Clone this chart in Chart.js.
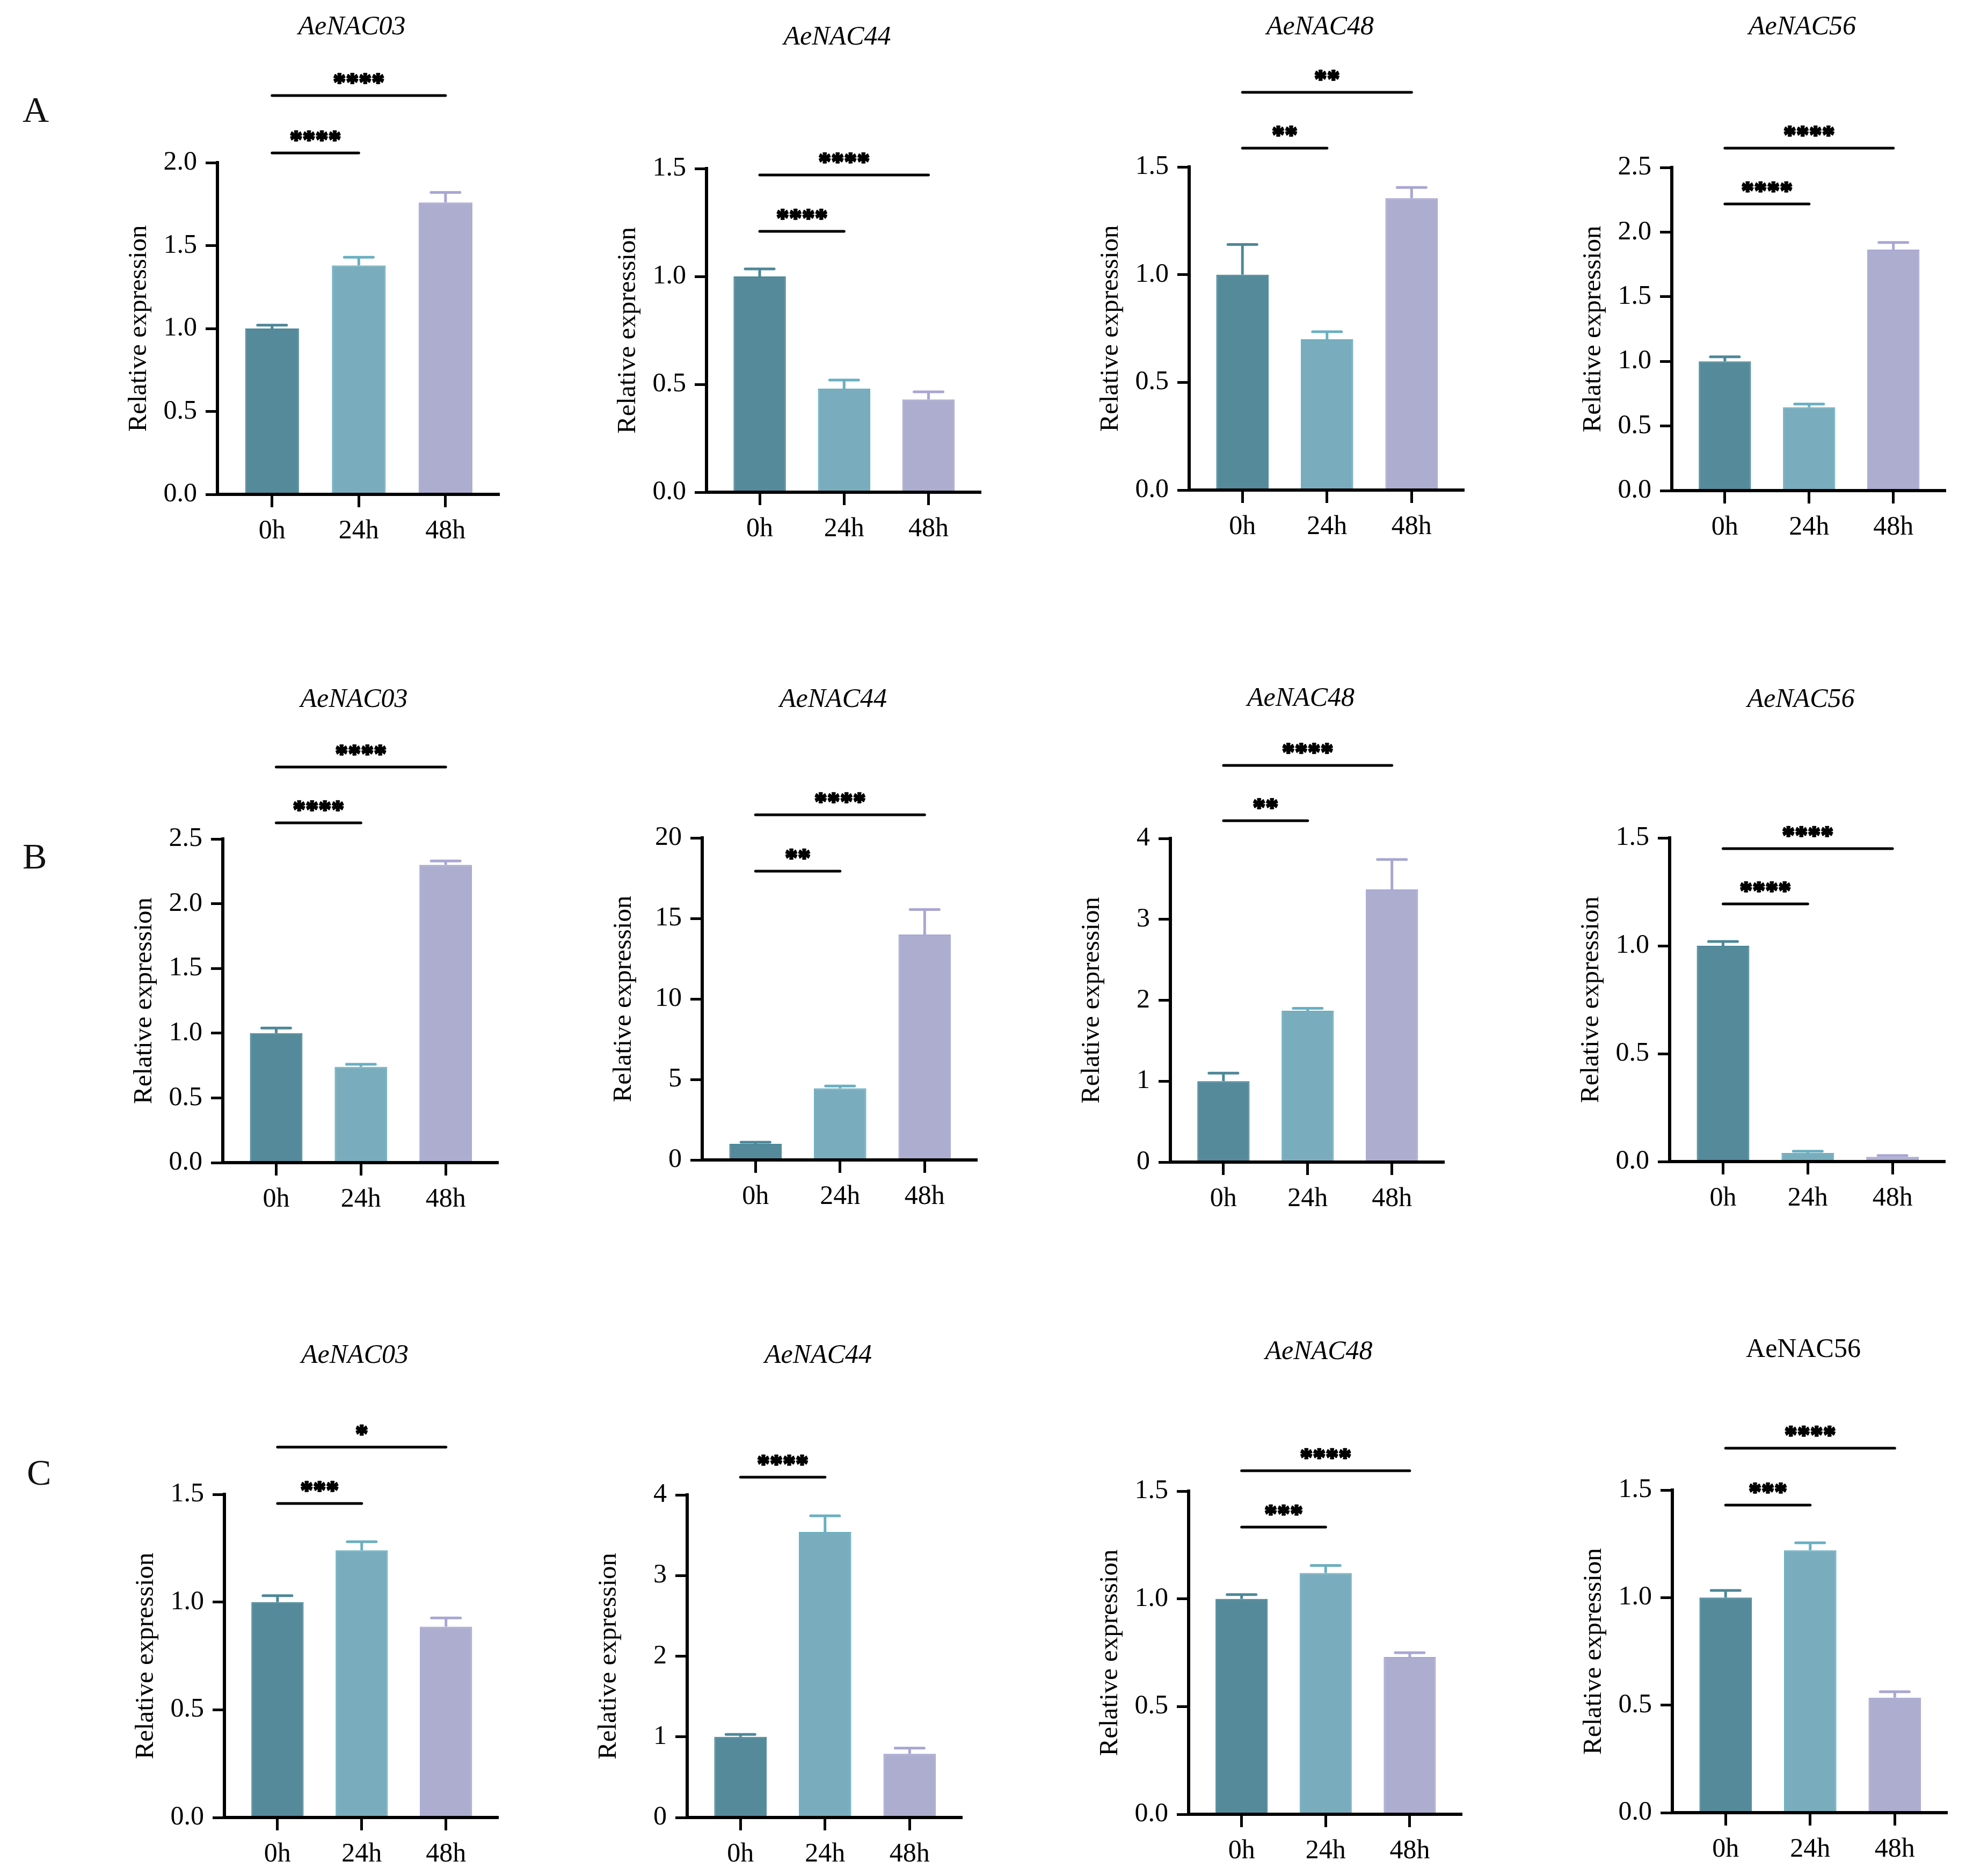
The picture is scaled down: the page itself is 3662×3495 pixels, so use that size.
<!DOCTYPE html>
<html>
<head>
<meta charset="utf-8">
<script src="https://cdn.jsdelivr.net/npm/chart.js@4.4.1/dist/chart.umd.min.js"></script>
<style>
  html, body { margin: 0; padding: 0; background: #fff; }
  body { width: 3662px; height: 3495px; position: relative; overflow: hidden; font-family: 'Liberation Serif', 'Times New Roman', serif; }
  canvas { position: absolute; }
  .letter { position: absolute; font-size: 68px; line-height: 68px; color: #111; }
</style>
</head>
<body>
<div class="letter" style="left:42px;top:170px">A</div>
<div class="letter" style="left:42px;top:1561px">B</div>
<div class="letter" style="left:50px;top:2709px">C</div>
<script>
// --- Data ---
const hours = ['0h', '24h', '48h'];
const genes = ['AeNAC03', 'AeNAC44', 'AeNAC48', 'AeNAC56'];

// relative expression (mean) and error per gene, for each treatment row
const meansA = [[1.00, 1.38, 1.76], [1.00, 0.48, 0.43], [1.00, 0.70, 1.355], [1.00, 0.645, 1.865]];
const errsA  = [[0.02, 0.05, 0.06], [0.035, 0.04, 0.035], [0.14, 0.035, 0.05], [0.035, 0.025, 0.055]];
const meansB = [[1.00, 0.74, 2.30], [1.0, 4.45, 14.0], [1.0, 1.87, 3.37], [1.00, 0.04, 0.022]];
const errsB  = [[0.04, 0.02, 0.03], [0.1, 0.14, 1.55], [0.1, 0.03, 0.37], [0.02, 0.008, 0.006]];
const meansC = [[1.00, 1.24, 0.886], [1.0, 3.54, 0.79], [1.00, 1.12, 0.73], [1.0, 1.22, 0.535]];
const errsC  = [[0.03, 0.04, 0.04], [0.03, 0.2, 0.07], [0.02, 0.035, 0.02], [0.033, 0.035, 0.027]];

// significance marks: [0h vs 24h, 0h vs 48h]
const starsA = [['****', '****'], ['****', '****'], ['**', '**'], ['****', '****']];
const starsB = [['****', '****'], ['**', '****'], ['**', '****'], ['****', '****']];
const starsC = [['***', '*'], ['****', null], ['***', '****'], ['***', '****']];

// y axis range / tick step
const yMaxA = [2.0, 1.5, 1.5, 2.5], yStepA = [0.5, 0.5, 0.5, 0.5];
const yMaxB = [2.5, 20, 4, 1.5],    yStepB = [0.5, 5, 1, 0.5];
const yMaxC = [1.5, 4, 1.5, 1.5],   yStepC = [0.5, 1, 0.5, 0.5];

// --- Layout (page pixels): plot left, top, width, height, title dy, bracket dy (lower, upper) ---
const boxes = [
  [[405, 303, 525, 618, -255, -18, -125], [1316, 314, 511, 603, -247, 117, 12], [2215, 311, 512, 602, -263, -35, -139], [3114, 312, 510, 602, -264, 68, -36]],
  [[415, 1563, 513, 603, -262, -30, -134], [1308, 1561, 512, 600, -260, 62, -43], [2180, 1562, 510, 603, -263, -33, -136], [3110, 1561, 513, 603, -260, 123, 20]],
  [[418, 2784, 510, 602, -261, 17, -88], [1280, 2785, 512, 601, -262, -33, null], [2214, 2778, 509, 602, -262, 67, -38], [3115, 2776, 512, 601, -264, 28, -78]]
];

const barColors = ['#558a9b', '#79adbd', '#adadcf'];
const edgeColors = ['#4a8898', '#6db0c0', '#a7a7d1'];
const errColors = ['#4d8798', '#6aafc1', '#a8a6d2'];
const FONT = "'Liberation Serif', 'Times New Roman', serif";
const Y_W = 180, X_H = 110, PAD_T = 300, PAD_R = 20;

function inkText(ctx, s, x, cy, heavy) {
  const m = ctx.measureText(s);
  const y = cy + (m.actualBoundingBoxAscent - m.actualBoundingBoxDescent) / 2;
  if (heavy) {
    ctx.lineWidth = 2.5;
    ctx.lineJoin = 'round';
    ctx.strokeStyle = '#000';
    ctx.strokeText(s, x, y);
  }
  ctx.fillText(s, x, y);
}

// titles, error bars and significance brackets
const decor = {
  id: 'decor',
  afterDraw(chart, args, o) {
    const ctx = chart.ctx;
    const area = chart.chartArea;
    const xs = chart.scales.x, ys = chart.scales.y;
    const means = chart.data.datasets[0].data.map(p => p.y);
    ctx.save();
    ctx.textAlign = 'center';
    ctx.textBaseline = 'alphabetic';
    ctx.fillStyle = '#000';

    // title
    ctx.font = (o.italic ? 'italic ' : '') + '50px ' + FONT;
    inkText(ctx, o.title, (area.left + area.right) / 2 - 12, area.top + o.titleDy);

    // error bars
    o.errs.forEach((e, i) => {
      const x = xs.getPixelForValue(i);
      const y0 = ys.getPixelForValue(means[i]);
      const y1 = ys.getPixelForValue(means[i] + e);
      ctx.strokeStyle = errColors[i];
      ctx.lineWidth = 5;
      ctx.lineCap = 'butt';
      ctx.beginPath(); ctx.moveTo(x, y0); ctx.lineTo(x, y1); ctx.stroke();
      ctx.lineCap = 'round';
      ctx.beginPath(); ctx.moveTo(x - 27, y1); ctx.lineTo(x + 27, y1); ctx.stroke();
    });

    // brackets
    o.stars.forEach((s, k) => {
      if (!s) return;
      const y = area.top + o.bracketDy[k];
      const xa = xs.getPixelForValue(0), xb = xs.getPixelForValue(k + 1);
      ctx.strokeStyle = '#000';
      ctx.lineWidth = 5;
      ctx.lineCap = 'round';
      ctx.beginPath(); ctx.moveTo(xa, y); ctx.lineTo(xb, y); ctx.stroke();
      ctx.font = 'bold 48px ' + FONT;
      inkText(ctx, s, (xa + xb) / 2, y - 32, true);
    });
    ctx.restore();
  }
};

function makePanel(box, gene, means, errs, stars, yMax, yStep, italic) {
  const [left, top, w, h, titleDy, lowDy, highDy] = box;
  const cv = document.createElement('canvas');
  const cw = Y_W + w + PAD_R, ch = PAD_T + h + X_H;
  cv.width = cw; cv.height = ch;
  cv.style.left = (left - Y_W) + 'px';
  cv.style.top = (top - PAD_T) + 'px';
  cv.style.width = cw + 'px';
  cv.style.height = ch + 'px';
  document.body.appendChild(cv);
  const dec = yStep < 1 ? 1 : 0;

  new Chart(cv, {
    type: 'bar',
    data: {
      datasets: [{
        data: means.map((v, i) => ({ x: i, y: v })),
        backgroundColor: barColors,
        borderColor: edgeColors,
        borderWidth: 2,
        barPercentage: 0.62,
        categoryPercentage: 1
      }]
    },
    options: {
      responsive: false,
      animation: false,
      devicePixelRatio: 1,
      layout: { padding: { top: PAD_T, right: PAD_R, left: 0, bottom: 0 } },
      plugins: {
        legend: { display: false },
        tooltip: { enabled: false },
        decor: { title: gene, titleDy, italic, errs, stars, bracketDy: [lowDy, highDy] }
      },
      scales: {
        x: {
          type: 'linear', min: -0.63, max: 2.62, bounds: 'data', offset: false,
          grid: { drawOnChartArea: false, drawTicks: true, tickLength: 24, tickWidth: 5, tickColor: '#000', offset: false, z: 1 },
          border: { display: true, color: '#000', width: 6, z: 1 },
          afterBuildTicks: s => { s.ticks = hours.map((_, i) => ({ value: i })); },
          afterFit: s => { s.height = X_H; },
          ticks: { callback: v => hours[v], color: '#000', font: { family: FONT, size: 50 }, padding: 15, autoSkip: false, maxRotation: 0 }
        },
        y: {
          min: 0, max: yMax,
          grid: { drawOnChartArea: false, drawTicks: true, tickLength: 22, tickWidth: 5, tickColor: '#000', z: 1 },
          border: { display: true, color: '#000', width: 6, z: 1 },
          afterFit: s => { s.width = Y_W; },
          ticks: { stepSize: yStep, callback: v => v.toFixed(dec), color: '#000', font: { family: FONT, size: 50 }, padding: 16 },
          title: { display: true, text: 'Relative expression', color: '#000', font: { family: FONT, size: 49 }, padding: { top: 5, bottom: 0 } }
        }
      }
    },
    plugins: [decor]
  });
}

const rowMeans = [meansA, meansB, meansC];
const rowErrs = [errsA, errsB, errsC];
const rowStars = [starsA, starsB, starsC];
const rowMax = [yMaxA, yMaxB, yMaxC];
const rowStep = [yStepA, yStepB, yStepC];

rowMeans.forEach((means, r) => {
  genes.forEach((g, c) => {
    const italic = !(r === 2 && c === 3);
    makePanel(boxes[r][c], g, means[c], rowErrs[r][c], rowStars[r][c], rowMax[r][c], rowStep[r][c], italic);
  });
});
</script>
</body>
</html>
